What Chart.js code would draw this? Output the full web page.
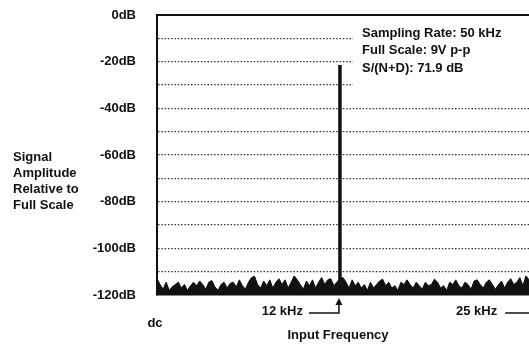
<!DOCTYPE html>
<html lang="en">
<head>
  <meta charset="UTF-8">
  <title>FFT plot - 12 kHz input</title>
  <script src="https://cdn.jsdelivr.net/npm/chart.js"></script>
  <style>
    html, body {
      margin: 0;
      padding: 0;
      background: #fff;
      overflow: hidden;
    }
    #wrap {
      width: 529px;
      height: 347px;
    }
  </style>
</head>
<body>
  <div id="wrap"><canvas id="fft"></canvas></div>

  <script>
    // y axis (dB relative to full scale)
    const yTicks = [0, -20, -40, -60, -80, -100, -120];
    const yTitle = ['Signal', 'Amplitude', 'Relative to', 'Full Scale'];

    // x axis markers (kHz)
    const xMarkFreqs = [0, 12, 25];
    const xMarkLabels = ['dc', '12 kHz', '25 kHz'];
    const xTitle = 'Input Frequency';

    // info text
    const infoLines = ['Sampling Rate: 50 kHz', 'Full Scale: 9V p-p', 'S/(N+D): 71.9 dB'];

    // fundamental
    const peakFreq = 12;
    const peakDb = -21.4;

    // noise floor, one value per 0.2 kHz bin starting at dc
    const binKHz = 0.2;
    const noiseDb = [
      -113, -115.5, -117.5, -114.5, -118, -116.5, -115.5, -114.5, -117, -115.5,
      -118, -116, -114.5, -116, -114, -115.5, -117.5, -114.5, -113.8, -116.5,
      -118, -115.5, -114.5, -117, -115, -114.5, -116.5, -113.5, -116, -117.5,
      -114.5,
      -112.5, -112, -115.5, -117, -114, -116, -113.5, -117, -114.5, -113,
      -115.5, -113.5, -117, -114.5, -111.8, -113.5, -115.5, -117.5, -114, -116,
      -113.5, -117, -114.5, -112.5, -115.5, -113.5, -113, -116, -114.5, -113,
      -112.5, -114.5, -117, -113.5, -116, -114.5, -117, -115.5, -118, -114.5,
      -117, -115.5, -114, -113.2, -116, -114.5, -117, -116, -118, -114.5,
      -115.5, -113.5, -115.5, -117, -114.5, -116, -117.5, -114.5, -116,
      -115.5, -113.2, -114.5, -117, -116, -118, -114.5, -115.5, -113.5, -116,
      -117, -114.5, -115.5, -117.5, -114, -113.5, -115.5, -117, -114.5, -113.5,
      -115.5, -117.5, -115.5, -114, -117, -114.5, -113, -115.5, -114.5, -112.5,
      -116, -111.8, -113.5
    ];

    const FONT = '"Liberation Sans", Arial, sans-serif';

    const noisePoints = noiseDb.map((v, i) => ({ x: i * binKHz, y: v }));
    const peakPoints = [{ x: peakFreq, y: -120 }, { x: peakFreq, y: peakDb }];

    const decor = {
      id: 'decor',
      beforeDatasetsDraw(chart) {
        const { ctx, chartArea } = chart;
        // white box behind the info text (hides the grid there)
        ctx.save();
        ctx.fillStyle = '#fff';
        ctx.fillRect(353, chartArea.top + 9, chartArea.right - 353, 73);
        ctx.restore();
      },
      afterDraw(chart) {
        const { ctx, chartArea, scales } = chart;
        const x = scales.x;
        ctx.save();
        ctx.fillStyle = '#111';
        ctx.strokeStyle = '#111';
        ctx.font = 'bold 13px ' + FONT;
        ctx.textBaseline = 'middle';

        // top frame line
        ctx.lineWidth = 2;
        ctx.beginPath();
        ctx.moveTo(chartArea.left - 1, chartArea.top);
        ctx.lineTo(chartArea.right, chartArea.top);
        ctx.stroke();

        // info text
        ctx.textAlign = 'left';
        infoLines.forEach((t, i) => ctx.fillText(t, 362, chartArea.top + 18 + i * 17.5));

        // y title
        yTitle.forEach((t, i) => ctx.fillText(t, 13, 157 + i * 16));

        // x markers
        const py = chartArea.bottom + 16;
        ctx.textAlign = 'center';
        ctx.fillText(xMarkLabels[0], x.getPixelForValue(xMarkFreqs[0]) - 2, chartArea.bottom + 28);

        ctx.lineWidth = 1.5;
        // 12 kHz with bent arrow to the peak
        const p12 = x.getPixelForValue(xMarkFreqs[1]);
        ctx.textAlign = 'right';
        ctx.fillText(xMarkLabels[1], p12 - 37, py);
        ctx.beginPath();
        ctx.moveTo(p12 - 31, py + 2);
        ctx.lineTo(p12 - 1, py + 2);
        ctx.lineTo(p12 - 1, py - 10);
        ctx.stroke();
        ctx.beginPath();
        ctx.moveTo(p12 - 4.5, py - 6);
        ctx.lineTo(p12 - 1, py - 13);
        ctx.lineTo(p12 + 2.5, py - 6);
        ctx.closePath();
        ctx.fill();

        // 25 kHz with arrow running off to the right
        const p25 = x.getPixelForValue(xMarkFreqs[2]);
        ctx.fillText(xMarkLabels[2], p25 - 41, py);
        ctx.beginPath();
        ctx.moveTo(p25 - 33, py + 2);
        ctx.lineTo(p25, py + 2);
        ctx.stroke();

        // x title
        ctx.textAlign = 'center';
        ctx.fillText(xTitle, 338, chartArea.bottom + 40);
        ctx.restore();
      }
    };

    new Chart(document.getElementById('fft'), {
      type: 'line',
      data: {
        datasets: [
          {
            data: noisePoints,
            borderColor: '#111',
            backgroundColor: '#111',
            borderWidth: 1,
            pointRadius: 0,
            tension: 0,
            fill: 'start'
          },
          {
            data: peakPoints,
            borderColor: '#111',
            borderWidth: 3.5,
            pointRadius: 0,
            fill: false
          }
        ]
      },
      options: {
        responsive: true,
        maintainAspectRatio: false,
        animation: false,
        events: [],
        layout: { padding: { top: 15, right: 0, left: 0, bottom: 0 } },
        plugins: {
          legend: { display: false },
          tooltip: { enabled: false }
        },
        scales: {
          x: {
            type: 'linear',
            min: 0,
            max: 24.4,
            afterFit(scale) {
              scale.height = 52;
              scale.paddingLeft = 0;
              scale.paddingRight = 0;
            },
            ticks: { display: false },
            grid: { display: false },
            border: { display: true, color: '#111', width: 1.5 }
          },
          y: {
            min: -120,
            max: 0,
            afterFit(scale) {
              scale.width = 157;
              scale.paddingTop = 0;
              scale.paddingBottom = 0;
            },
            afterBuildTicks(scale) {
              scale.ticks = [];
              for (let v = 0; v >= -120; v -= 10) scale.ticks.push({ value: v });
            },
            ticks: {
              color: '#111',
              padding: 21,
              font: { family: FONT, size: 13, weight: 'bold' },
              callback: v => (yTicks.includes(v) ? v + 'dB' : '')
            },
            grid: {
              drawTicks: false,
              lineWidth: 1.3,
              color: c => (c.tick && (c.tick.value === 0 || c.tick.value === -120) ? 'rgba(0,0,0,0)' : '#333')
            },
            border: { display: true, color: '#111', width: 2, dash: [1.5, 1.8] }
          }
        }
      },
      plugins: [decor]
    });
  </script>
</body>
</html>
